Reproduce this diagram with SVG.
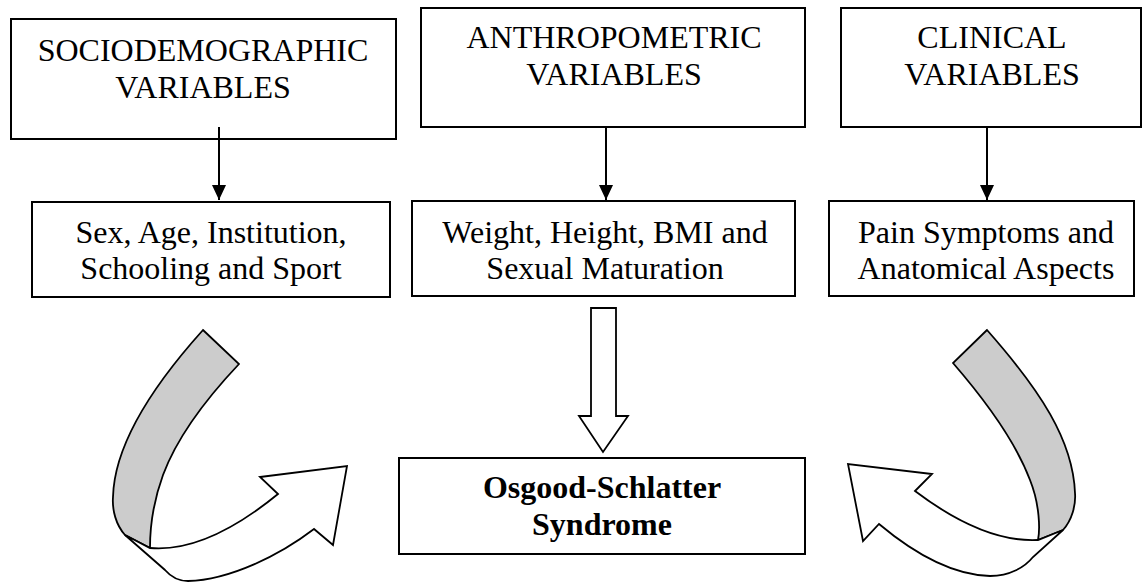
<svg xmlns="http://www.w3.org/2000/svg" width="1142" height="582" viewBox="0 0 1142 582">
<style>
.box{fill:#fff;stroke:#000;stroke-width:2}
.t{font-family:"Liberation Serif","Times New Roman",serif;font-size:32px;fill:#000;text-anchor:middle}
.b{font-weight:bold}
.ln{stroke:#000;stroke-width:2;fill:none}
.rib{fill:#fff;stroke:#000;stroke-width:1.8;stroke-linejoin:miter}
.gry{fill:#cccccc;stroke:#000;stroke-width:1.8}
</style>
<defs>
<marker id="ah" markerWidth="16" markerHeight="14" refX="15" refY="7" orient="auto" markerUnits="userSpaceOnUse">
<path d="M0,0 L15,7 L0,14 Z" fill="#000"/>
</marker>
</defs>
<g id="n-socio">
<rect class="box" x="11" y="19" width="385" height="120"/>
<text class="t" x="203" y="61">SOCIODEMOGRAPHIC<tspan x="203" dy="37">VARIABLES</tspan></text>
</g>
<g id="n-anthro">
<rect class="box" x="421" y="8" width="384" height="119"/>
<text class="t" x="614" y="48">ANTHROPOMETRIC<tspan x="614" dy="37">VARIABLES</tspan></text>
</g>
<g id="n-clin">
<rect class="box" x="841" y="8" width="300" height="119"/>
<text class="t" x="992" y="48">CLINICAL<tspan x="992" dy="37">VARIABLES</tspan></text>
</g>
<g id="n-sex">
<rect class="box" x="32" y="202" width="358" height="95"/>
<text class="t" x="211" y="243">Sex, Age, Institution,<tspan x="211" dy="36">Schooling and Sport</tspan></text>
</g>
<g id="n-weight">
<rect class="box" x="412" y="201" width="383" height="95"/>
<text class="t" x="605" y="243">Weight, Height, BMI and<tspan x="605" dy="36">Sexual Maturation</tspan></text>
</g>
<g id="n-pain">
<rect class="box" x="829" y="201" width="305" height="95"/>
<text class="t" x="986" y="243">Pain Symptoms and<tspan x="986" dy="36">Anatomical Aspects</tspan></text>
</g>
<g id="n-osgood">
<rect class="box" x="399" y="458" width="406" height="96"/>
<text class="t b" x="602" y="498">Osgood-Schlatter<tspan x="602" dy="37">Syndrome</tspan></text>
</g>
<g id="connectors">
<line class="ln" x1="219" y1="127" x2="219" y2="200" marker-end="url(#ah)"/>
<line class="ln" x1="606" y1="127" x2="606" y2="200" marker-end="url(#ah)"/>
<line class="ln" x1="987" y1="127" x2="987" y2="200" marker-end="url(#ah)"/>
<path class="rib" d="M591,308 L616,308 L616,416 L628,416 L603,452 L579,416 L591,416 Z"/>
<path class="gry" d="M203,330 L239,364 C205,400 176,440 163,475 C152,505 150,530 150,548 L125,535 C116,525 112,510 113,497 C114,455 140,400 203,330 Z"/>
<path class="rib" d="M150,548 C195,552 240,525 278,494 L260,477 L347,466 L333,545 L314,529 C280,555 230,580 188,581 C178,581 171,577 165,570 L125,535 Z"/>
<path class="gry" d="M987,330 L953,363 C985,400 1015,440 1030,480 C1040,505 1040,530 1038,540 L1063,530 C1072,520 1076,505 1075,493 C1073,440 1040,390 987,330 Z"/>
<path class="rib" d="M1038,540 C1000,542 960,525 915,491 L932,474 L848,464 L863,541 L879,524 C910,550 950,575 990,576 C1010,576 1025,567 1033,557 L1063,530 Z"/>
</g>
</svg>
